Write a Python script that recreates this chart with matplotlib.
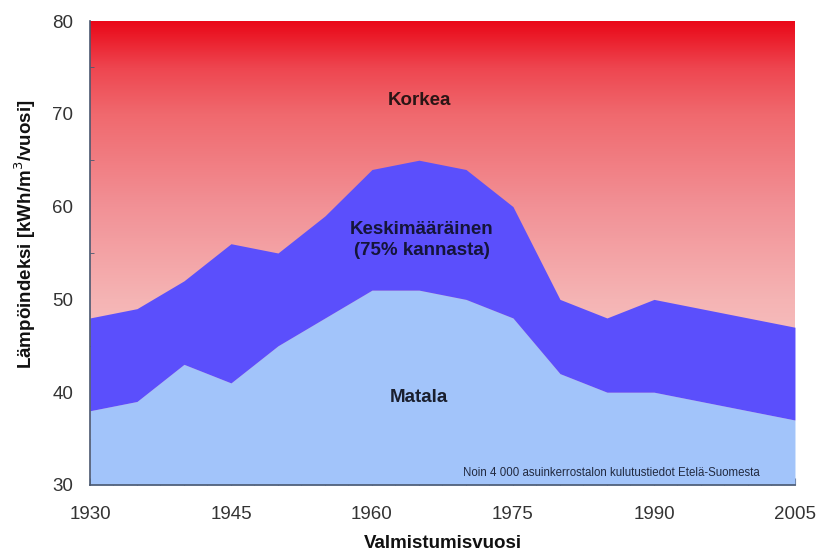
import numpy as np
import matplotlib
matplotlib.use('Agg')
from matplotlib import pyplot as plt
from matplotlib.colors import LinearSegmentedColormap

plt.rcParams['font.family'] = ['Liberation Sans', 'DejaVu Sans']

# data
years = [1930, 1935, 1940, 1945, 1950, 1955, 1960, 1965, 1970, 1975, 1980, 1985, 1990, 1995, 2000, 2005]
matala = [38, 39, 43, 41, 45, 48, 51, 51, 50, 48, 42, 40, 40, 39, 38, 37]
keski_ylä = [48, 49, 52, 56, 55, 59, 64, 65, 64, 60, 50, 48, 50, 49, 48, 47]
xticks = [1930, 1945, 1960, 1975, 1990, 2005]
yticks = [30, 40, 50, 60, 70, 80]

fig = plt.figure(figsize=(8.21, 5.53), dpi=100)
ax = fig.add_axes([0.1096, 0.123, 0.8587, 0.839])

# punainen liukuväri taustalle
bg = LinearSegmentedColormap.from_list('bg', [
    (0.0, (250/255, 222/255, 222/255)),
    (0.4, (245/255, 180/255, 180/255)),
    (0.6, (242/255, 145/255, 150/255)),
    (0.8, (240/255, 105/255, 110/255)),
    (0.9, (238/255, 70/255, 80/255)),
    (1.0, (234/255, 8/255, 24/255)),
])
grad = np.linspace(0, 1, 256).reshape(-1, 1)
ax.imshow(grad, extent=[1930, 2005, 30, 80], origin='lower', aspect='auto', cmap=bg, zorder=0)

ax.fill_between(years, 30, matala, color='#a2c4fa', lw=0, zorder=2)
ax.fill_between(years, matala, keski_ylä, color='#5b4ffc', lw=0, zorder=2)

ax.set_xlim(1930, 2005)
ax.set_ylim(30, 80)
ax.set_xticks(range(1930, 2006, 5))
ax.set_xticklabels([str(y) if y in xticks else '' for y in range(1930, 2006, 5)])
ax.set_xticks(np.arange(1932.5, 2005, 5), minor=True)
ax.set_yticks(yticks)
ax.set_yticks(range(35, 80, 10), minor=True)

spc = '#4a5870'
for s in ['top', 'right']:
    ax.spines[s].set_visible(False)
for s in ['left', 'bottom']:
    ax.spines[s].set_color(spc)
    ax.spines[s].set_linewidth(1.2)
    ax.spines[s].set_zorder(5)
ax.tick_params(axis='both', which='both', direction='in', color=spc, labelcolor='#333333', labelsize=13.5)
ax.tick_params(axis='x', which='major', length=5, pad=15)
ax.tick_params(axis='x', which='minor', length=3)
ax.tick_params(axis='y', which='major', length=0, pad=12)
ax.tick_params(axis='y', which='minor', length=3)

ax.set_xlabel('Valmistumisvuosi', fontsize=13.5, fontweight='bold', color='#111111', labelpad=9)
ax.set_ylabel('Lämpöindeksi [kWh/m$^3$/vuosi]', fontsize=13.5, fontweight='bold', color='#111111')
ax.yaxis.set_label_coords(-0.074, 0.54)

ax.text(1965, 71.4, 'Korkea', ha='center', va='center', fontsize=13.5, fontweight='bold', color='#2a1515', zorder=6)
ax.text(1965.3, 56.4, 'Keskimääräinen\n(75% kannasta)', ha='center', va='center', fontsize=13.5,
        fontweight='bold', color='#15153a', linespacing=1.3, zorder=6)
ax.text(1965, 39.4, 'Matala', ha='center', va='center', fontsize=13.5, fontweight='bold', color='#1a1f2e', zorder=6)
ax.text(1985.5, 31.3, 'Noin 4 000 asuinkerrostalon kulutustiedot Etelä-Suomesta', ha='center', va='center',
        fontsize=8.3, color='#222a40', zorder=6)

fig.savefig('out.png', dpi=100)
